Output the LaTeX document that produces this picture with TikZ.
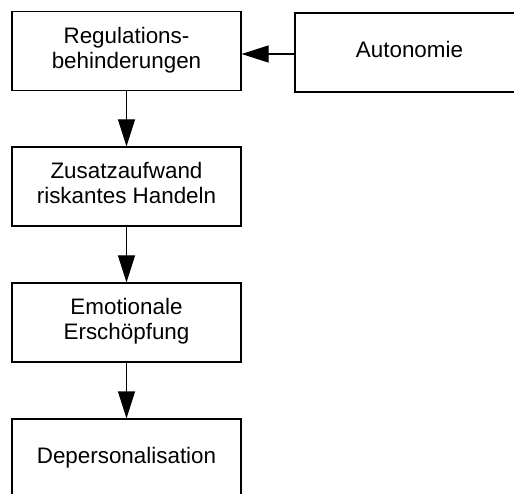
\documentclass[tikz,border=0pt]{standalone}
\usepackage{fontspec}
\setmainfont{Liberation Sans}
\usetikzlibrary{arrows.meta}
\begin{document}
\begin{tikzpicture}[x=1pt,y=-1pt,
  box/.style={draw=black, line width=1.2pt, minimum width=229pt, minimum height=79pt,
    inner sep=0pt, align=center, text depth=7pt, font=\fontsize{22.4}{25.2}\selectfont},
  arr/.style={line width=1.2pt, -{Triangle[length=27pt,width=17pt]}}]
  \useasboundingbox (0,0) rectangle (514,494);
  \clip (0,0) rectangle (514,494);
  \node[box] (reg) at (126.5,51) {Regulations-\\behinderungen};
  \node[box] (auto) at (409.5,52.5) {Autonomie};
  \node[box] (zus) at (126.5,186.5) {Zusatzaufwand\\riskantes Handeln};
  \node[box] (emo) at (126.5,322.5) {Emotionale\\Erschöpfung};
  \node[box] (dep) at (126.5,458.5) {Depersonalisation};
  \coordinate (autoin) at ([yshift=-1.5pt]auto.west);
  \draw[arr] (autoin) -- (autoin -| reg.east);
  \draw[arr] (reg) -- (zus);
  \draw[arr] (zus) -- (emo);
  \draw[arr] (emo) -- (dep);
\end{tikzpicture}
\end{document}
